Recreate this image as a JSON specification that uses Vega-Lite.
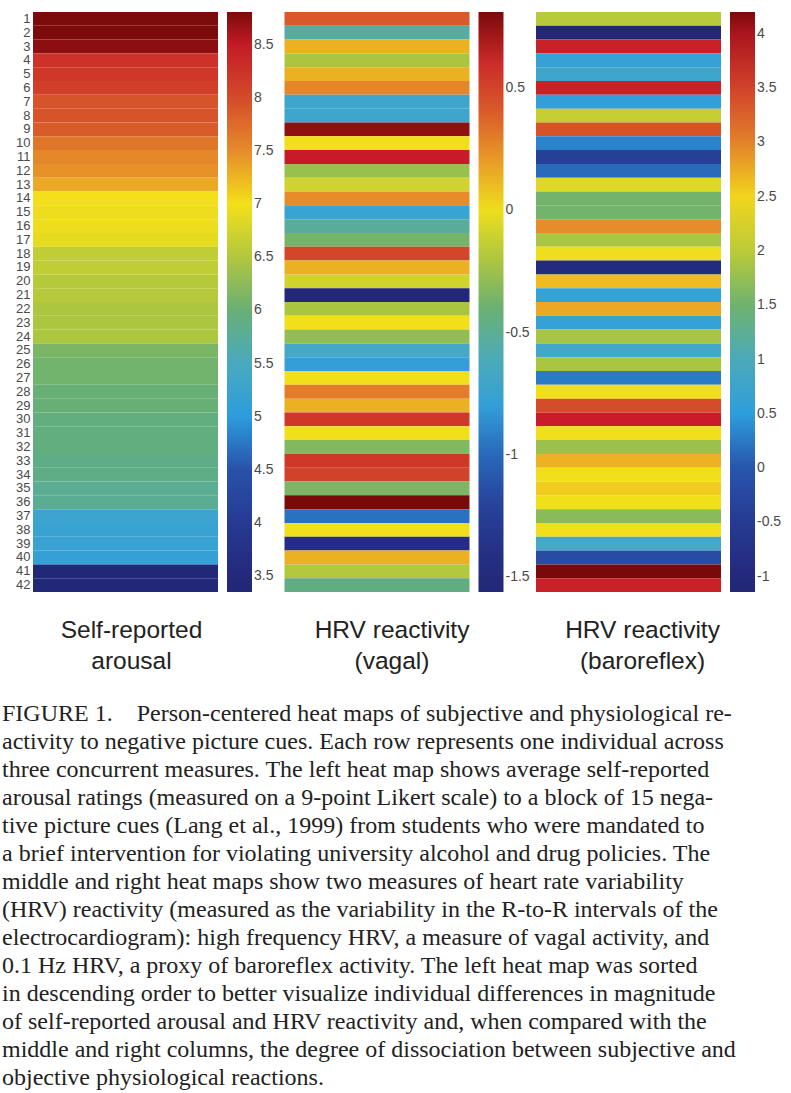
{
  "$schema": "https://vega.github.io/schema/vega-lite/v6.json",
  "background": "white",
  "padding": {"left": 2, "top": 12, "right": 5, "bottom": 0},
  "datasets": {
    "rows": [
      {"row": 1, "arousal": 8.8, "vagal": 0.41, "baro": 1.98},
      {"row": 2, "arousal": 8.8, "vagal": -0.54, "baro": -1.14},
      {"row": 3, "arousal": 8.73, "vagal": 0.15, "baro": 3.83},
      {"row": 4, "arousal": 8.27, "vagal": -0.21, "baro": 0.62},
      {"row": 5, "arousal": 8.2, "vagal": 0.15, "baro": 0.78},
      {"row": 6, "arousal": 8.13, "vagal": 0.26, "baro": 3.83},
      {"row": 7, "arousal": 7.93, "vagal": -0.71, "baro": 0.57},
      {"row": 8, "arousal": 7.93, "vagal": -0.71, "baro": 2.06},
      {"row": 9, "arousal": 7.87, "vagal": 0.77, "baro": 3.35},
      {"row": 10, "arousal": 7.67, "vagal": 0.02, "baro": 0.3},
      {"row": 11, "arousal": 7.53, "vagal": 0.67, "baro": -0.39},
      {"row": 12, "arousal": 7.47, "vagal": -0.26, "baro": 0.14},
      {"row": 13, "arousal": 7.33, "vagal": -0.11, "baro": 2.22},
      {"row": 14, "arousal": 7.0, "vagal": 0.24, "baro": 1.53},
      {"row": 15, "arousal": 6.93, "vagal": -0.75, "baro": 1.53},
      {"row": 16, "arousal": 6.93, "vagal": -0.52, "baro": 2.92},
      {"row": 17, "arousal": 6.87, "vagal": -0.37, "baro": 1.9},
      {"row": 18, "arousal": 6.6, "vagal": 0.48, "baro": 2.38},
      {"row": 19, "arousal": 6.6, "vagal": 0.15, "baro": -0.93},
      {"row": 20, "arousal": 6.53, "vagal": -0.11, "baro": 2.65},
      {"row": 21, "arousal": 6.53, "vagal": -1.56, "baro": 0.62},
      {"row": 22, "arousal": 6.47, "vagal": -0.21, "baro": 2.76},
      {"row": 23, "arousal": 6.47, "vagal": 0.02, "baro": 0.62},
      {"row": 24, "arousal": 6.47, "vagal": -0.28, "baro": 1.88},
      {"row": 25, "arousal": 6.13, "vagal": -0.66, "baro": 0.84},
      {"row": 26, "arousal": 6.07, "vagal": -0.8, "baro": 1.9},
      {"row": 27, "arousal": 6.07, "vagal": 0.02, "baro": 0.25},
      {"row": 28, "arousal": 6.0, "vagal": 0.29, "baro": 2.41},
      {"row": 29, "arousal": 6.0, "vagal": 0.15, "baro": 3.4},
      {"row": 30, "arousal": 5.93, "vagal": 0.55, "baro": 3.88},
      {"row": 31, "arousal": 5.93, "vagal": 0.02, "baro": 2.41},
      {"row": 32, "arousal": 5.93, "vagal": -0.33, "baro": 1.8},
      {"row": 33, "arousal": 5.87, "vagal": 0.55, "baro": 2.7},
      {"row": 34, "arousal": 5.87, "vagal": 0.5, "baro": 2.41},
      {"row": 35, "arousal": 5.8, "vagal": -0.35, "baro": 2.54},
      {"row": 36, "arousal": 5.8, "vagal": 0.81, "baro": 2.41},
      {"row": 37, "arousal": 5.27, "vagal": -0.97, "baro": 1.69},
      {"row": 38, "arousal": 5.2, "vagal": 0.02, "baro": 2.41},
      {"row": 39, "arousal": 5.2, "vagal": -1.44, "baro": 0.89},
      {"row": 40, "arousal": 5.13, "vagal": 0.15, "baro": -0.13},
      {"row": 41, "arousal": 3.4, "vagal": -0.19, "baro": 4.2},
      {"row": 42, "arousal": 3.37, "vagal": -0.45, "baro": 3.83}
    ]
  },
  "data": {"name": "rows"},
  "title": {
    "text": [
      "FIGURE 1.\u00a0\u00a0\u00a0 Person-centered heat maps of subjective and physiological re-",
      "activity to negative picture cues. Each row represents one individual across",
      "three concurrent measures. The left heat map shows average self-reported",
      "arousal ratings (measured on a 9-point Likert scale) to a block of 15 nega-",
      "tive picture cues (Lang et al., 1999) from students who were mandated to",
      "a brief intervention for violating university alcohol and drug policies. The",
      "middle and right heat maps show two measures of heart rate variability",
      "(HRV) reactivity (measured as the variability in the R-to-R intervals of the",
      "electrocardiogram): high frequency HRV, a measure of vagal activity, and",
      "0.1 Hz HRV, a proxy of baroreflex activity. The left heat map was sorted",
      "in descending order to better visualize individual differences in magnitude",
      "of self-reported arousal and HRV reactivity and, when compared with the",
      "middle and right columns, the degree of dissociation between subjective and",
      "objective physiological reactions."
    ],
    "orient": "bottom",
    "anchor": "start",
    "frame": "group",
    "font": "Liberation Serif",
    "fontSize": 24,
    "fontWeight": "normal",
    "color": "#222222",
    "lineHeight": 28,
    "offset": 28,
    "dx": -31
  },
  "spacing": 66.5,
  "bounds": "flush",
  "resolve": {"scale": {"color": "independent"}, "legend": {"color": "independent"}},
  "hconcat": [
    {
      "width": 185,
      "height": 580,
      "title": {"text": ["Self-reported", "arousal"], "orient": "bottom", "frame": "group", "anchor": "middle", "dx": 6, "offset": 27, "fontSize": 24.5, "fontWeight": "normal", "font": "Liberation Sans", "color": "#222222", "lineHeight": 31},
      "mark": {"type": "rect", "strokeWidth": 0},
      "encoding": {
        "y": {"field": "row", "type": "ordinal", "scale": {"paddingInner": 0, "paddingOuter": 0},
              "axis": {"title": null, "domain": false, "ticks": false, "labelPadding": 3, "labelFontSize": 13, "labelFont": "Liberation Sans", "labelColor": "#4a4a4a"}},
        "x": {"value": 0},
        "x2": {"value": "width"},
        "color": {"field": "arousal", "type": "quantitative",
          "scale": {"domain": [3.35, 3.514, 4.005, 4.497, 4.988, 5.479, 5.971, 6.408, 6.79, 7.008, 7.5, 7.991, 8.482, 8.81],
                    "range": ["#222876", "#23297c", "#263a92", "#2852aa", "#2c9cde", "#48aac2", "#64ae78", "#a2c246", "#e0d824", "#f4e01a", "#e68c2a", "#d44c2a", "#c81c28", "#7a0a0a"],
                    "interpolate": "rgb", "clamp": true},
          "legend": {"values": [3.5, 4, 4.5, 5, 5.5, 6, 6.5, 7, 7.5, 8, 8.5], "format": "~g", "labelExpr": "replace(format(datum.value, '~g'), '\u2212', '-')"}}
      }
    },
    {
      "width": 185,
      "height": 580,
      "title": {"text": ["HRV reactivity", "(vagal)"], "orient": "bottom", "frame": "group", "anchor": "middle", "dx": 15, "offset": 27, "fontSize": 24.5, "fontWeight": "normal", "font": "Liberation Sans", "color": "#222222", "lineHeight": 31},
      "mark": {"type": "rect", "strokeWidth": 0},
      "encoding": {
        "y": {"field": "row", "type": "ordinal", "scale": {"paddingInner": 0, "paddingOuter": 0}, "axis": null},
        "x": {"value": 0},
        "x2": {"value": "width"},
        "color": {"field": "vagal", "type": "quantitative",
          "scale": {"domain": [-1.56, -1.489, -1.276, -1.062, -0.849, -0.636, -0.422, -0.233, -0.067, 0.028, 0.241, 0.455, 0.668, 0.81],
                    "range": ["#222876", "#23297c", "#263a92", "#2852aa", "#2c9cde", "#48aac2", "#64ae78", "#a2c246", "#e0d824", "#f4e01a", "#e68c2a", "#d44c2a", "#c81c28", "#7a0a0a"],
                    "interpolate": "rgb", "clamp": true},
          "legend": {"values": [-1.5, -1, -0.5, 0, 0.5], "format": "~g", "labelExpr": "replace(format(datum.value, '~g'), '\u2212', '-')"}}
      }
    },
    {
      "width": 185,
      "height": 580,
      "title": {"text": ["HRV reactivity", "(baroreflex)"], "orient": "bottom", "frame": "group", "anchor": "middle", "dx": 14, "offset": 27, "fontSize": 24.5, "fontWeight": "normal", "font": "Liberation Sans", "color": "#222222", "lineHeight": 31},
      "mark": {"type": "rect", "strokeWidth": 0},
      "encoding": {
        "y": {"field": "row", "type": "ordinal", "scale": {"paddingInner": 0, "paddingOuter": 0}, "axis": null},
        "x": {"value": 0},
        "x2": {"value": "width"},
        "color": {"field": "baro", "type": "quantitative",
          "scale": {"domain": [-1.14, -0.98, -0.499, -0.019, 0.462, 0.943, 1.423, 1.85, 2.224, 2.438, 2.918, 3.399, 3.88, 4.2],
                    "range": ["#222876", "#23297c", "#263a92", "#2852aa", "#2c9cde", "#48aac2", "#64ae78", "#a2c246", "#e0d824", "#f4e01a", "#e68c2a", "#d44c2a", "#c81c28", "#7a0a0a"],
                    "interpolate": "rgb", "clamp": true},
          "legend": {"values": [-1, -0.5, 0, 0.5, 1, 1.5, 2, 2.5, 3, 3.5, 4], "format": "~g", "labelExpr": "replace(format(datum.value, '~g'), '\u2212', '-')"}}
      }
    }
  ],
  "config": {
    "view": {"stroke": null},
    "legend": {
      "orient": "right",
      "offset": 9,
      "padding": 0,
      "title": null,
      "gradientLength": 580,
      "gradientThickness": 25,
      "gradientStrokeWidth": 0,
      "labelFontSize": 14,
      "labelFont": "Liberation Sans",
      "labelColor": "#4a4a4a",
      "labelOffset": 6,
      "labelOverlap": false
    }
  }
}
